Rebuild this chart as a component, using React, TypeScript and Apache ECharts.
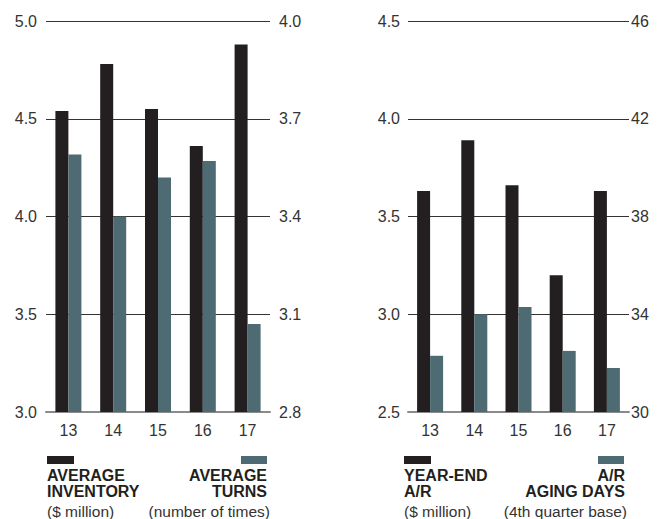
import React, { useEffect, useRef } from "react";
import * as echarts from "echarts";

const categories = ["13", "14", "15", "16", "17"];
const avgInventory = [4.54, 4.78, 4.55, 4.36, 4.88];
const avgTurns = [3.59, 3.4, 3.52, 3.57, 3.07];
const yearEndAR = [3.63, 3.89, 3.66, 3.2, 3.63];
const arAgingDays = [32.3, 34.0, 34.3, 32.5, 31.8];

const leftAxisTicks = { min: 3.0, max: 5.0, interval: 0.5 };
const leftAxis2Ticks = { min: 2.8, max: 4.0, interval: 0.3 };
const rightAxisTicks = { min: 2.5, max: 4.5, interval: 0.5 };
const rightAxis2Ticks = { min: 30, max: 46, interval: 4 };

const BLACK = "#231f20";
const TEAL = "#4e6a72";
const FONT = "'Liberation Sans', Arial, sans-serif";
const NARROW = "'Liberation Sans Narrow', 'Liberation Sans', Arial, sans-serif";

export default function App() {
  const ref = useRef<HTMLDivElement>(null);
  useEffect(() => {
    if (!ref.current) return;
    const chart = echarts.init(ref.current, undefined, { renderer: "svg" });
    const axisLabel = (margin: number, fmt?: (v: number) => string) => ({
      color: "#333",
      fontSize: 16,
      fontFamily: FONT,
      margin,
      formatter: fmt,
    });
    const yBase = (gridIndex: number, t: any, position: string, margin: number, dec: number, split: boolean) => ({
      type: "value",
      gridIndex,
      position,
      min: t.min,
      max: t.max,
      interval: t.interval,
      axisLine: { show: false },
      axisTick: { show: false },
      splitLine: { show: split, lineStyle: { color: "#333", width: 1 } },
      axisLabel: axisLabel(margin, (v: number) => v.toFixed(dec)),
    });
    const xBase = (gridIndex: number) => ({
      type: "category",
      gridIndex,
      data: categories,
      axisLine: { show: true, lineStyle: { color: "#8a8a8a", width: 2 } },
      axisTick: { show: false },
      axisLabel: { color: "#333", fontSize: 16, fontFamily: FONT, margin: 10 },
    });
    const legendText = (x: number, y: number, text: string, align: string, bold: boolean) => ({
      type: "text",
      x,
      y,
      style: {
        text,
        align,
        verticalAlign: "middle",
        fill: bold ? "#231f20" : "#333",
        fontSize: bold ? 16 : 15.5,
        fontWeight: bold ? "bold" : "normal",
        fontFamily: bold ? NARROW : FONT,
      },
    });
    const option: any = {
      animation: false,
      backgroundColor: "#fff",
      grid: [
        { left: 46, width: 224, top: 21, height: 391 },
        { left: 408, width: 221, top: 21, height: 391 },
      ],
      xAxis: [xBase(0), xBase(1)],
      yAxis: [
        yBase(0, leftAxisTicks, "left", 9, 1, true),
        yBase(0, leftAxis2Ticks, "right", 9, 1, false),
        yBase(1, rightAxisTicks, "left", 8, 1, true),
        yBase(1, rightAxis2Ticks, "right", 2, 0, false),
      ],
      series: [
        { type: "bar", name: "Average Inventory", xAxisIndex: 0, yAxisIndex: 0, data: avgInventory, barWidth: 13, barGap: "0%", itemStyle: { color: BLACK } },
        { type: "bar", name: "Average Turns", xAxisIndex: 0, yAxisIndex: 1, data: avgTurns, barWidth: 13, barGap: "0%", itemStyle: { color: TEAL } },
        { type: "bar", name: "Year-End A/R", xAxisIndex: 1, yAxisIndex: 2, data: yearEndAR, barWidth: 13, barGap: "0%", itemStyle: { color: BLACK } },
        { type: "bar", name: "A/R Aging Days", xAxisIndex: 1, yAxisIndex: 3, data: arAgingDays, barWidth: 13, barGap: "0%", itemStyle: { color: TEAL } },
      ],
      graphic: [
        { type: "rect", shape: { x: 47, y: 456, width: 27, height: 8 }, style: { fill: BLACK } },
        { type: "rect", shape: { x: 241, y: 456, width: 26, height: 8 }, style: { fill: TEAL } },
        { type: "rect", shape: { x: 404, y: 456, width: 27, height: 8 }, style: { fill: BLACK } },
        { type: "rect", shape: { x: 598, y: 456, width: 26, height: 8 }, style: { fill: TEAL } },
        legendText(47, 475, "AVERAGE", "left", true),
        legendText(47, 491, "INVENTORY", "left", true),
        legendText(47, 511, "($ million)", "left", false),
        legendText(267, 475, "AVERAGE", "right", true),
        legendText(267, 491, "TURNS", "right", true),
        legendText(270, 511, "(number of times)", "right", false),
        legendText(404, 475, "YEAR-END", "left", true),
        legendText(404, 491, "A/R", "left", true),
        legendText(404, 511, "($ million)", "left", false),
        legendText(625, 475, "A/R", "right", true),
        legendText(625, 491, "AGING DAYS", "right", true),
        legendText(627, 511, "(4th quarter base)", "right", false),
      ],
    };
    chart.setOption(option);
    return () => chart.dispose();
  }, []);
  return <div ref={ref} style={{ width: 665, height: 519, position: "fixed", left: 0, top: 0 }} />;
}
